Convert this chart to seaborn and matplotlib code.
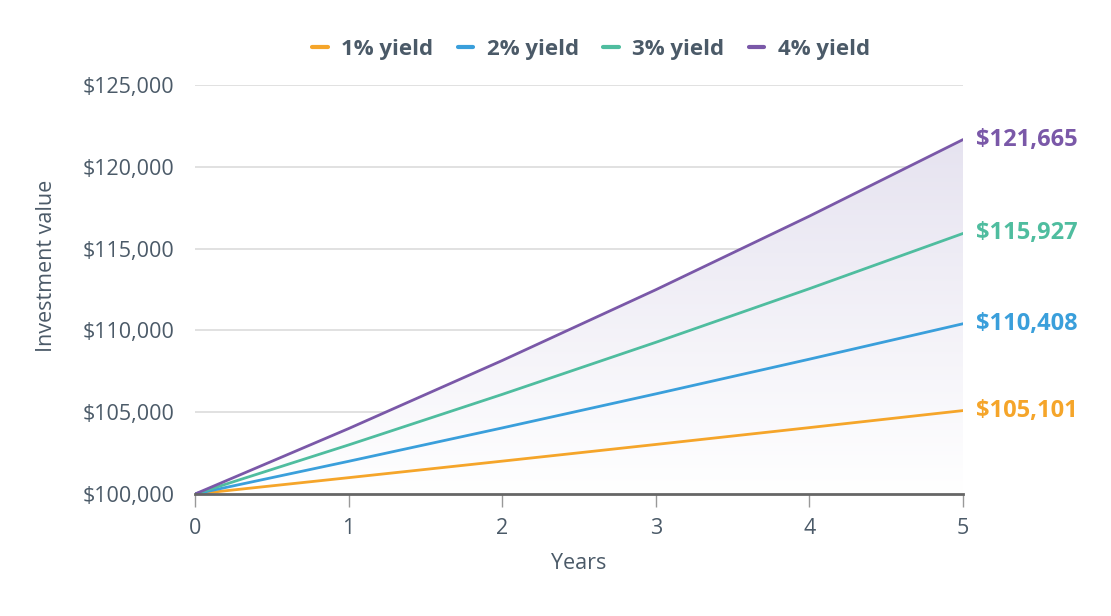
import numpy as np
import pandas as pd
import matplotlib
matplotlib.use('Agg')
import matplotlib.pyplot as plt
import seaborn as sns

# values, one per year
years = [0, 1, 2, 3, 4, 5]
yield_1 = [100000, 101000, 102010, 103030, 104060, 105101]
yield_2 = [100000, 102000, 104040, 106121, 108243, 110408]
yield_3 = [100000, 103000, 106090, 109273, 112551, 115927]
yield_4 = [100000, 104000, 108160, 112486, 116986, 121665]
series_names = ['1% yield', '2% yield', '3% yield', '4% yield']
colors = ['#f5a52a', '#3a9fdb', '#4fbd9f', '#7a58a8']
y_ticks = [100000, 105000, 110000, 115000, 120000, 125000]

df = pd.DataFrame({
    'Years': years * 4,
    'Value': yield_1 + yield_2 + yield_3 + yield_4,
    'Series': [s for s in series_names for _ in years],
})

sns.set_theme(style='white')
plt.rcParams['font.family'] = ['Open Sans', 'DejaVu Sans']
text_col = '#4b5a68'

fig = plt.figure(figsize=(11.11, 6.16), dpi=100)
ax = fig.add_axes([0.1755, 0.198, 0.6913, 0.664])

# gradient fill under the top line
grad = np.linspace(1, 0, 256).reshape(-1, 1)
cmap = matplotlib.colors.LinearSegmentedColormap.from_list('lav', ['#ffffff', '#e6e3f0'])
im = ax.imshow(grad, extent=[0, 5, 100000, max(yield_4)], aspect='auto',
               cmap=cmap, origin='upper', zorder=1)
poly = ax.fill_between(years, yield_4, 100000, color='none', zorder=1)
im.set_clip_path(poly.get_paths()[0], transform=ax.transData)

sns.lineplot(data=df, x='Years', y='Value', hue='Series', palette=colors,
             linewidth=2, ax=ax, legend=False, zorder=3)

ax.set_xlim(0, 5)
ax.set_ylim(100000, 125000)
ax.set_yticks(y_ticks)
ax.set_yticklabels([f'${v:,.0f}' for v in y_ticks])
ax.set_xticks(years)
ax.yaxis.grid(True, color='#dcdcdc', linewidth=1.2, zorder=0)
ax.set_axisbelow(True)
for s in ['top', 'right', 'left']:
    ax.spines[s].set_visible(False)
ax.spines['bottom'].set_color('#666666')
ax.spines['bottom'].set_linewidth(2)
ax.spines['bottom'].set_zorder(4)
ax.tick_params(axis='x', bottom=True, length=9, width=1, color='#999999',
               labelsize=15.5, labelcolor=text_col, pad=8)
ax.tick_params(axis='y', left=False, labelsize=15.5, labelcolor=text_col, pad=9)

ax.set_xlabel('Years', fontsize=15.5, color=text_col, labelpad=10)
ax.set_ylabel('Investment value', fontsize=15.5, color=text_col)
ax.yaxis.set_label_coords(-0.18, 0.557)

# end labels
for vals, c in zip([yield_1, yield_2, yield_3, yield_4], colors):
    ax.annotate(f'${vals[-1]:,.0f}', xy=(years[-1], vals[-1]), xytext=(9, 0),
                textcoords='offset points', ha='left', va='center',
                fontsize=17, fontweight='bold', color=c, annotation_clip=False)

handles = [plt.Line2D([0], [0], color=c, linewidth=3) for c in colors]
leg = fig.legend(handles, series_names, loc='center', bbox_to_anchor=(0.532, 0.92),
                 ncol=4, frameon=False, handlelength=0.7, handletextpad=0.6,
                 columnspacing=1.1, prop={'size': 16, 'weight': 'bold'})
for t in leg.get_texts():
    t.set_color(text_col)

fig.savefig('out.png', dpi=100)
